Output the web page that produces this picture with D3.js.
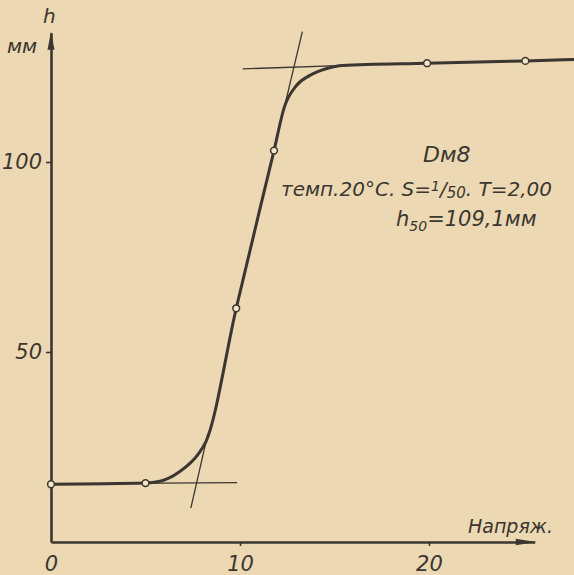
<!DOCTYPE html>
<html>
<head>
<meta charset="utf-8">
<script src="https://cdn.jsdelivr.net/npm/d3@7"></script>
<style>
	html, body {
		margin: 0;
		padding: 0;
		background: #ecd8b2;
	}
	svg {
		display: block;
	}
	text {
		font-family: 'DejaVu Sans', sans-serif;
		font-style: italic;
		fill: #3b3631;
	}
</style>
</head>
<body>
<svg id="chart" width="574" height="575"></svg>
<script>
// measured points (circles)
const pointX = [0, 5, 9.8, 11.8, 19.9, 25.1];
const pointH = [15.2, 15.5, 61.5, 103, 126, 126.6];

// smooth curve drawn through the points
const curveX = [0, 5, 5.7, 6.8, 7.8, 8.2, 9.8, 11.8, 12.35, 13.0, 13.7, 14.6, 15.4, 19.9, 25.1, 27.9];
const curveH = [15.2, 15.5, 15.9, 18.5, 23.2, 26.4, 61.5, 103, 114.5, 120.2, 122.8, 124.6, 125.4, 126, 126.6, 127];

// thin construction lines (tangents)
const tangentLowFlat = [[0, 15.3], [9.85, 15.6]];
const tangentLowSteep = [[7.4, 8.9], [8.3, 28.5]];
const tangentHighSteep = [[12.3, 113.4], [13.3, 134.3]];
const tangentHighFlat = [[10.15, 124.5], [16, 125.5]];

const xTicks = [0, 10, 20];
const yTicks = [50, 100];

const ink = '#3b3631';

let svg = d3.select('#chart');

let x = d3.scaleLinear()
	.domain([0, 25.6])
	.range([51, 534.8]);

let y = d3.scaleLinear()
	.domain([0, 134])
	.range([542, 32.8]);

// axes
let yAxis = svg.append('g')
	.attr('transform', 'translate(' + x(0) + ',0)')
	.call(
		d3.axisLeft(y)
			.tickValues(yTicks)
			.tickSize(5)
			.tickSizeOuter(0)
			.tickPadding(4)
	);

let xAxis = svg.append('g')
	.attr('transform', 'translate(0,' + y(0) + ')')
	.call(
		d3.axisBottom(x)
			.tickValues(xTicks)
			.tickSize(4)
			.tickSizeOuter(0)
			.tickPadding(10)
	);

[xAxis, yAxis].forEach(
	function(g) {
		g.select('.domain')
			.attr('stroke', ink)
			.attr('stroke-width', 2.6);
		g.selectAll('.tick line')
			.attr('stroke', ink)
			.attr('stroke-width', 1.6);
		g.selectAll('.tick text')
			.attr('fill', ink)
			.style('font-size', '21px')
			.style('font-family', "'DejaVu Sans', sans-serif")
			.style('font-style', 'italic');
	}
);

xAxis.selectAll('.tick')
	.filter(
		function(d) {
			return d === 0;
		}
	)
	.select('line')
	.remove();

xAxis.selectAll('.tick text')
	.attr('dy', '0.71em');

// arrow heads
svg.append('path')
	.attr('d', 'M' + x(0) + ',' + (y(134) - 1) + 'l-3.5,18l7,0z')
	.attr('fill', ink);

svg.append('path')
	.attr('d', 'M' + (x(25.6) + 1) + ',' + y(0) + 'l-20,-3.2l0,6.4z')
	.attr('fill', ink);

// tangent lines
let line = d3.line()
	.x(
		function(d) {
			return x(d[0]);
		}
	)
	.y(
		function(d) {
			return y(d[1]);
		}
	);

[tangentLowFlat, tangentLowSteep, tangentHighSteep, tangentHighFlat].forEach(
	function(seg) {
		svg.append('path')
			.attr('d', line(seg))
			.attr('fill', 'none')
			.attr('stroke', ink)
			.attr('stroke-width', 1.3);
	}
);

// main curve
let curveData = curveX.map(
	function(v, i) {
		return [v, curveH[i]];
	}
);

svg.append('path')
	.attr('d', line.curve(d3.curveMonotoneX)(curveData))
	.attr('fill', 'none')
	.attr('stroke', ink)
	.attr('stroke-width', 3)
	.attr('stroke-linecap', 'round');

// measured points
svg.selectAll('.point')
	.data(pointX)
	.enter()
	.append('circle')
	.attr('class', 'point')
	.attr('cx', function(d) { return x(d); })
	.attr('cy', function(d, i) { return y(pointH[i]); })
	.attr('r', 3.4)
	.attr('fill', '#f3e6cb')
	.attr('stroke', ink)
	.attr('stroke-width', 1.5);

// axis titles
svg.append('text')
	.attr('x', 43)
	.attr('y', 23)
	.style('font-size', '20px')
	.text('h');

svg.append('text')
	.attr('x', 7)
	.attr('y', 53)
	.style('font-size', '20px')
	.text('мм');

svg.append('text')
	.attr('x', 468)
	.attr('y', 533)
	.style('font-size', '19px')
	.text('Напряж.');

// annotation
svg.append('text')
	.attr('x', 423)
	.attr('y', 162)
	.style('font-size', '22px')
	.text('Dм8');

let note = svg.append('text')
	.attr('x', 281)
	.attr('y', 196)
	.style('font-size', '20px');

note.append('tspan').text('темп.20°C. S=');
note.append('tspan').text('1').style('font-size', '14px').attr('dy', -5);
note.append('tspan').text('/').attr('dy', 5);
note.append('tspan').text('50').style('font-size', '15px').attr('dy', 2);
note.append('tspan').text('. T=2,00').attr('dy', -2);

let h50 = svg.append('text')
	.attr('x', 396)
	.attr('y', 226)
	.style('font-size', '21px');

h50.append('tspan').text('h');
h50.append('tspan').text('50').style('font-size', '14px').attr('dy', 5);
h50.append('tspan').text('=109,1мм').attr('dy', -5);
</script>
</body>
</html>
